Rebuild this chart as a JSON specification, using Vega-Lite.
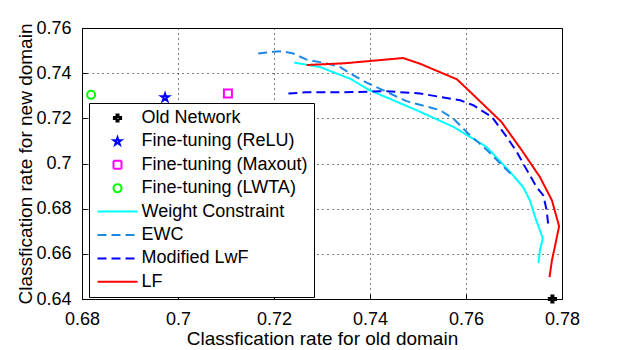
{
  "$schema": "https://vega.github.io/schema/vega-lite/v6.json",
  "width": 480,
  "height": 271,
  "autosize": {"type": "none"},
  "padding": {"left": 82, "top": 28, "right": 59, "bottom": 51},
  "background": "white",
  "config": {
    "view": {"stroke": "black", "strokeWidth": 1},
    "font": "Liberation Sans",
    "axis": {
      "grid": true, "gridColor": "black", "gridDash": [1, 4], "gridOpacity": 1, "gridWidth": 1,
      "domainColor": "black", "tickColor": "black", "tickSize": -5,
      "labelFont": "Liberation Sans", "labelFontSize": 18, "labelColor": "black", "labelFlush": false,
      "titleFont": "Liberation Sans", "titleFontSize": 19, "titleFontWeight": "normal", "titleColor": "black",
      "labelPadding": 16
    },
    "legend": {
      "orient": "none", "legendX": 7, "legendY": 75,
      "strokeColor": "black", "fillColor": "white", "padding": 6, "cornerRadius": 0,
      "symbolOffset": 13.5, "labelOffset": 15, "rowPadding": 5.4,
      "symbolSize": 64, "symbolStrokeWidth": 2,
      "labelFont": "Liberation Sans", "labelFontSize": 18, "labelColor": "black", "labelLimit": 0
    }
  },
  "datasets": {
    "pts": [
      {"series": "Old Network", "x": 0.778, "y": 0.640},
      {"series": "Fine-tuning (ReLU)", "x": 0.6973, "y": 0.7292},
      {"series": "Fine-tuning (Maxout)", "x": 0.7104, "y": 0.7310},
      {"series": "Fine-tuning (LWTA)", "x": 0.6819, "y": 0.7304}
    ],
    "lines": [
      {"series": "Weight Constraint", "i": 1, "x": 0.7242, "y": 0.7447},
      {"series": "Weight Constraint", "i": 2, "x": 0.7296, "y": 0.7427},
      {"series": "Weight Constraint", "i": 3, "x": 0.7358, "y": 0.7376},
      {"series": "Weight Constraint", "i": 4, "x": 0.7400, "y": 0.7324},
      {"series": "Weight Constraint", "i": 5, "x": 0.7497, "y": 0.7236},
      {"series": "Weight Constraint", "i": 6, "x": 0.7574, "y": 0.7162},
      {"series": "Weight Constraint", "i": 7, "x": 0.7643, "y": 0.7073},
      {"series": "Weight Constraint", "i": 8, "x": 0.7692, "y": 0.6962},
      {"series": "Weight Constraint", "i": 9, "x": 0.7719, "y": 0.6896},
      {"series": "Weight Constraint", "i": 10, "x": 0.7733, "y": 0.6837},
      {"series": "Weight Constraint", "i": 11, "x": 0.7744, "y": 0.6763},
      {"series": "Weight Constraint", "i": 12, "x": 0.7760, "y": 0.6669},
      {"series": "Weight Constraint", "i": 13, "x": 0.7754, "y": 0.6616},
      {"series": "Weight Constraint", "i": 14, "x": 0.7751, "y": 0.6559},
      {"series": "EWC", "i": 1, "x": 0.7167, "y": 0.7487},
      {"series": "EWC", "i": 2, "x": 0.7200, "y": 0.7495},
      {"series": "EWC", "i": 3, "x": 0.7219, "y": 0.7497},
      {"series": "EWC", "i": 4, "x": 0.7240, "y": 0.7487},
      {"series": "EWC", "i": 5, "x": 0.7268, "y": 0.7460},
      {"series": "EWC", "i": 6, "x": 0.7310, "y": 0.7443},
      {"series": "EWC", "i": 7, "x": 0.7338, "y": 0.7427},
      {"series": "EWC", "i": 8, "x": 0.7365, "y": 0.7391},
      {"series": "EWC", "i": 9, "x": 0.7393, "y": 0.7358},
      {"series": "EWC", "i": 10, "x": 0.7428, "y": 0.7324},
      {"series": "EWC", "i": 11, "x": 0.7476, "y": 0.7276},
      {"series": "EWC", "i": 12, "x": 0.7531, "y": 0.7245},
      {"series": "EWC", "i": 13, "x": 0.7546, "y": 0.7236},
      {"series": "EWC", "i": 14, "x": 0.7573, "y": 0.7200},
      {"series": "EWC", "i": 15, "x": 0.7604, "y": 0.7134},
      {"series": "EWC", "i": 16, "x": 0.7644, "y": 0.7059},
      {"series": "EWC", "i": 17, "x": 0.7694, "y": 0.6952},
      {"series": "Modified LwF", "i": 1, "x": 0.7230, "y": 0.7310},
      {"series": "Modified LwF", "i": 2, "x": 0.7265, "y": 0.7315},
      {"series": "Modified LwF", "i": 3, "x": 0.7338, "y": 0.7315},
      {"series": "Modified LwF", "i": 4, "x": 0.7435, "y": 0.7320},
      {"series": "Modified LwF", "i": 5, "x": 0.7504, "y": 0.7310},
      {"series": "Modified LwF", "i": 6, "x": 0.7588, "y": 0.7280},
      {"series": "Modified LwF", "i": 7, "x": 0.7615, "y": 0.7258},
      {"series": "Modified LwF", "i": 8, "x": 0.7654, "y": 0.7206},
      {"series": "Modified LwF", "i": 9, "x": 0.7685, "y": 0.7117},
      {"series": "Modified LwF", "i": 10, "x": 0.7706, "y": 0.7051},
      {"series": "Modified LwF", "i": 11, "x": 0.7723, "y": 0.6985},
      {"series": "Modified LwF", "i": 12, "x": 0.7747, "y": 0.6896},
      {"series": "Modified LwF", "i": 13, "x": 0.7761, "y": 0.6859},
      {"series": "Modified LwF", "i": 14, "x": 0.7768, "y": 0.6793},
      {"series": "Modified LwF", "i": 15, "x": 0.7772, "y": 0.6716},
      {"series": "LF", "i": 1, "x": 0.7268, "y": 0.7436},
      {"series": "LF", "i": 2, "x": 0.7348, "y": 0.7444},
      {"series": "LF", "i": 3, "x": 0.7469, "y": 0.7467},
      {"series": "LF", "i": 4, "x": 0.7504, "y": 0.7442},
      {"series": "LF", "i": 5, "x": 0.7581, "y": 0.7373},
      {"series": "LF", "i": 6, "x": 0.7598, "y": 0.7339},
      {"series": "LF", "i": 7, "x": 0.7674, "y": 0.7184},
      {"series": "LF", "i": 8, "x": 0.7716, "y": 0.7059},
      {"series": "LF", "i": 9, "x": 0.7754, "y": 0.6940},
      {"series": "LF", "i": 10, "x": 0.7779, "y": 0.6837},
      {"series": "LF", "i": 11, "x": 0.7794, "y": 0.6722},
      {"series": "LF", "i": 12, "x": 0.7785, "y": 0.6630},
      {"series": "LF", "i": 13, "x": 0.7779, "y": 0.6571},
      {"series": "LF", "i": 14, "x": 0.7774, "y": 0.6497}
    ]
  },
  "layer": [
    {
      "data": {"name": "pts"},
      "mark": {"type": "point", "filled": false, "size": 64, "strokeWidth": 2, "opacity": 1},
      "encoding": {
        "x": {"field": "x", "type": "quantitative",
          "scale": {"domain": [0.68, 0.78], "nice": false, "zero": false},
          "axis": {"values": [0.68, 0.7, 0.72, 0.74, 0.76, 0.78], "format": ".2~f",
            "title": "Classfication rate for old domain", "titleY": 39, "titleBaseline": "middle"}},
        "y": {"field": "y", "type": "quantitative",
          "scale": {"domain": [0.64, 0.76], "nice": false, "zero": false},
          "axis": {"values": [0.64, 0.66, 0.68, 0.7, 0.72, 0.74, 0.76], "format": ".2~f",
            "title": "Classfication rate for new domain", "titleX": -57, "titleBaseline": "middle"}},
        "color": {"field": "series", "type": "nominal",
          "scale": {
            "domain": ["Old Network", "Fine-tuning (ReLU)", "Fine-tuning (Maxout)", "Fine-tuning (LWTA)", "Weight Constraint", "EWC", "Modified LwF", "LF"],
            "range": ["#000000", "#0000ff", "#ff00ff", "#00ff00", "#00ffff", "#1e88e5", "#0000ff", "#ff0000"]},
          "legend": {"title": null, "orient": "none", "legendX": 7, "legendY": 75}},
        "shape": {"field": "series", "type": "nominal",
          "scale": {
            "domain": ["Old Network", "Fine-tuning (ReLU)", "Fine-tuning (Maxout)", "Fine-tuning (LWTA)", "Weight Constraint", "EWC", "Modified LwF", "LF"],
            "range": ["M-0.9,-0.25H-0.25V-0.9H0.25V-0.25H0.9V0.25H0.25V0.9H-0.25V0.25H-0.9Z", "M0,-1L0.223,-0.307L0.951,-0.309L0.361,0.117L0.588,0.809L0,0.38L-0.588,0.809L-0.361,0.117L-0.951,-0.309L-0.223,-0.307Z", "square", "circle", "M-5,0H5", "M-5,0H5", "M-5,0H5", "M-5,0H5"]},
          "legend": {"title": null, "orient": "none", "legendX": 7, "legendY": 75}}
      }
    },
    {
      "data": {"name": "lines"},
      "mark": {"type": "line", "strokeWidth": 2},
      "encoding": {
        "x": {"field": "x", "type": "quantitative"},
        "y": {"field": "y", "type": "quantitative"},
        "order": {"field": "i", "type": "quantitative"},
        "color": {"field": "series", "type": "nominal"},
        "strokeDash": {"field": "series", "type": "nominal",
          "scale": {
            "domain": ["Old Network", "Fine-tuning (ReLU)", "Fine-tuning (Maxout)", "Fine-tuning (LWTA)", "Weight Constraint", "EWC", "Modified LwF", "LF"],
            "range": [[1, 0], [1, 0], [1, 0], [1, 0], [1, 0], [9, 5], [9, 5], [1, 0]]},
          "legend": {"title": null, "orient": "none", "legendX": 7, "legendY": 75}}
      }
    }
  ]
}
